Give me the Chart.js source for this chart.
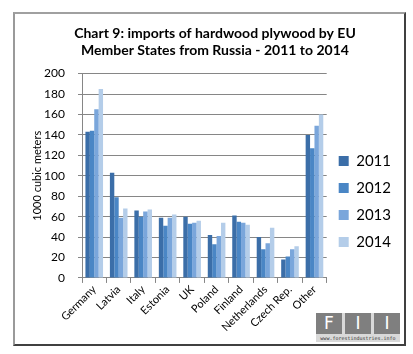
<!DOCTYPE html>
<html>
<head>
<meta charset="utf-8">
<script src="https://cdn.jsdelivr.net/npm/chart.js@4"></script>
<style>
  html, body { margin: 0; padding: 0; background: #fff; }
  #wrap { position: relative; width: 413px; height: 354px; overflow: hidden; }
  #grafico { position: absolute; left: 0; top: 0; }
  #frame {
    position: absolute; left: 13px; top: 12px; width: 389px; height: 330px;
    border-top: 2px solid #a0a0a0; border-left: 2px solid #9a9a9a;
    border-right: 2px solid #404040; border-bottom: 2px solid #404040;
    pointer-events: none;
  }
  #logo { position: absolute; left: 316px; top: 313px; width: 84px; height: 29px; background: #d9d9d9; }
  .tile {
    position: absolute; top: 0; width: 26px; height: 21px; background: #7f7f7f;
    color: #fff; font: 17px "DejaVu Sans", sans-serif; text-align: center; line-height: 21px;
  }
  #url { position: absolute; left: 0; top: 22px; width: 84px; text-align: center;
    font: 5px "DejaVu Sans Mono", monospace; color: #333; }
</style>
</head>
<body>
<div id="wrap">
  <canvas id="grafico" width="413" height="354"></canvas>
  <div id="frame"></div>
  <div id="logo">
    <div class="tile" style="left:0">F</div>
    <div class="tile" style="left:29px">I</div>
    <div class="tile" style="left:58px">I</div>
    <div id="url">www.forestindustries.info</div>
  </div>
</div>
<script>
// Dados
const paises = ['Germany', 'Latvia', 'Italy', 'Estonia', 'UK', 'Poland', 'Finland', 'Netherlands', 'Czech Rep.', 'Other'];
const anos = ['2011', '2012', '2013', '2014'];
const valores2011 = [143, 103, 66, 59, 60, 42, 61, 40, 18, 140];
const valores2012 = [144, 79, 60, 51, 53, 33, 55, 28, 21, 127];
const valores2013 = [165, 59, 65, 59, 54, 41, 54, 34, 28, 149];
const valores2014 = [185, 68, 67, 62, 56, 54, 52, 49, 31, 160];
const cores = ['#3b6ea8', '#4a86c5', '#7aa6db', '#b4cde9'];

const series = [valores2011, valores2012, valores2013, valores2014];
const fonte = 'Lato, "Open Sans", sans-serif';

const ctx = document.getElementById('grafico').getContext('2d');
new Chart(ctx, {
  type: 'bar',
  data: {
    labels: paises,
    datasets: anos.map((ano, i) => ({
      label: ano,
      data: series[i],
      backgroundColor: cores[i],
      borderWidth: 0,
      categoryPercentage: 0.72,
      barPercentage: 1.0
    }))
  },
  options: {
    responsive: false,
    animation: false,
    layout: { padding: { left: 29, right: 12, top: 14, bottom: 20 } },
    plugins: {
      title: {
        display: true,
        text: ['Chart 9: imports of hardwood plywood by EU', 'Member States from Russia - 2011 to 2014'],
        color: '#000',
        font: { family: fonte, size: 14, weight: 'bold' },
        padding: { top: 11, bottom: 15 }
      },
      legend: {
        position: 'right',
        // titulo vazio so para empurrar a legenda para baixo
        title: { display: true, text: ' ', font: { size: 15 }, padding: 18.5 },
        labels: {
          color: '#000',
          font: { family: fonte, size: 15 },
          boxWidth: 10,
          boxHeight: 10,
          padding: 12
        }
      },
      tooltip: { enabled: false }
    },
    scales: {
      x: {
        grid: { display: true, drawOnChartArea: false, color: '#868686', tickLength: 5, offset: true },
        border: { color: '#868686' },
        ticks: {
          color: '#000', font: { family: fonte, size: 11 },
          maxRotation: 45, minRotation: 45, padding: 0
        }
      },
      y: {
        min: 0, max: 200,
        afterFit: (escala) => { escala.width = 53; },
        ticks: { stepSize: 20, color: '#000', font: { family: fonte, size: 12 }, padding: 13 },
        grid: { color: '#868686', tickLength: 4 },
        border: { color: '#868686' },
        title: {
          display: true, text: '1000 cubic meters', color: '#000',
          font: { family: fonte, size: 11 }, padding: 2
        }
      }
    }
  }
});
</script>
</body>
</html>
